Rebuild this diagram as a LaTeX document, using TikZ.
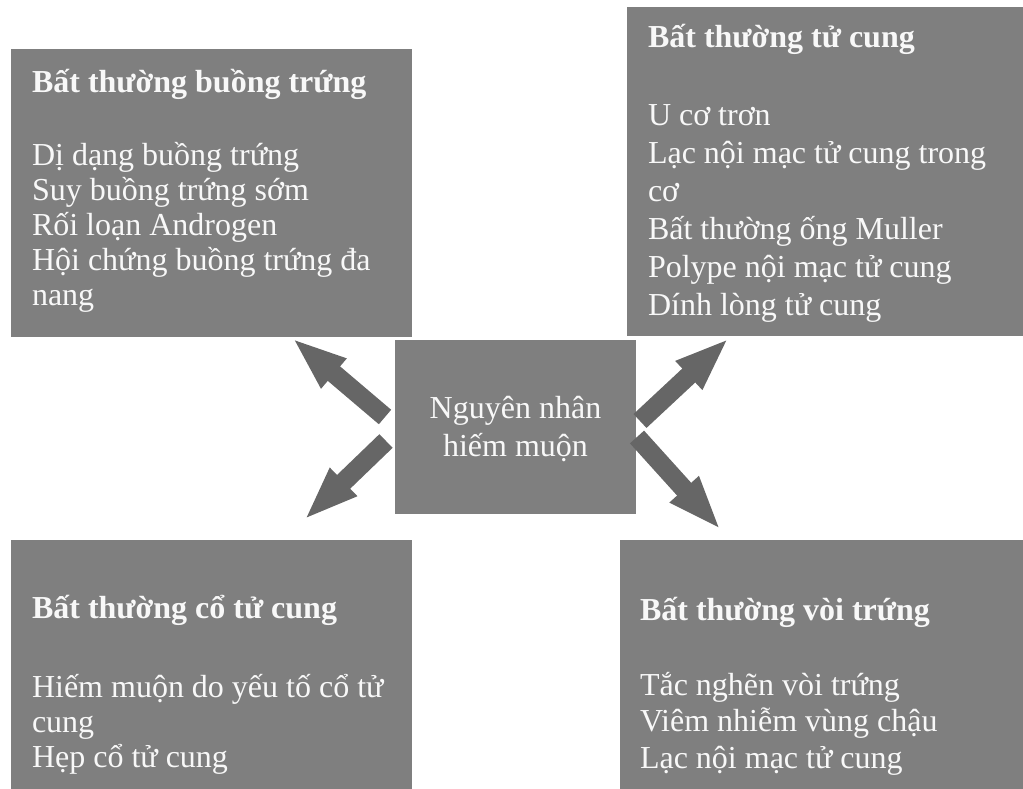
\documentclass[tikz,border=0pt]{standalone}
\usepackage{fontspec}
\setmainfont{Liberation Serif}
\usetikzlibrary{arrows.meta}
\definecolor{boxgray}{HTML}{7F7F7F}
\definecolor{arrowgray}{HTML}{666666}
\definecolor{txt}{HTML}{F8F8F8}
\begin{document}
\begin{tikzpicture}[x=1pt,y=-1pt,
  panel/.style={fill=boxgray,draw=none,inner sep=0pt,outer sep=0pt},
  bodytext/.style={anchor=north west,inner sep=0pt,outer sep=0pt,align=left,text=txt},
  bigarrow/.style={draw=arrowgray,line width=19pt,line cap=butt,
    -{Triangle[length=55pt,width=35pt]}},
]
\useasboundingbox (0,0) rectangle (1023,789);
% panels
\path[panel] (11,49) rectangle (412,337) node[pos=0.5] (tl) {};
\path[panel] (627,7) rectangle (1023,336) node[pos=0.5] (tr) {};
\path[panel] (11,540) rectangle (412,789) node[pos=0.5] (bl) {};
\path[panel] (620,540) rectangle (1023,789) node[pos=0.5] (br) {};
\node[panel,minimum width=241pt,minimum height=174pt,
  font=\fontsize{32}{38}\selectfont,text=txt,align=center] (c) at (515.5,427)
  {\rule{0pt}{26pt}Nguyên nhân\\hiếm muộn};
% texts
\node[bodytext,font=\fontsize{32}{35}\selectfont] (tlt) at (32,64)
  {\rule{0pt}{28pt}\textbf{Bất thường buồng trứng}\\[38pt]
   Dị dạng buồng trứng\\
   Suy buồng trứng sớm\\
   Rối loạn Androgen\\
   Hội chứng buồng trứng đa\\
   nang};
\node[bodytext,font=\fontsize{32}{38}\selectfont] (trt) at (648,19)
  {\rule{0pt}{28pt}\textbf{Bất thường tử cung}\\[40pt]
   U cơ trơn\\
   Lạc nội mạc tử cung trong\\
   cơ\\
   Bất thường ống Muller\\
   Polype nội mạc tử cung\\
   Dính lòng tử cung};
\node[bodytext,font=\fontsize{32}{35}\selectfont] (blt) at (32,590)
  {\rule{0pt}{28pt}\textbf{Bất thường cổ tử cung}\\[44pt]
   Hiếm muộn do yếu tố cổ tử\\
   cung\\
   Hẹp cổ tử cung};
\node[bodytext,font=\fontsize{32}{36.5}\selectfont] (brt) at (640,592)
  {\rule{0pt}{28pt}\textbf{Bất thường vòi trứng}\\[38.5pt]
   Tắc nghẽn vòi trứng\\
   Viêm nhiễm vùng chậu\\
   Lạc nội mạc tử cung};
% arrows
\coordinate (a1s) at (385,417);
\coordinate (a1e) at (292,338);
\coordinate (a2s) at (386,441);
\coordinate (a2e) at (304,520);
\coordinate (a3s) at (640,421);
\coordinate (a3e) at (729,338);
\coordinate (a4s) at (637,437);
\coordinate (a4e) at (721,530);
\draw[bigarrow] (a1s) -- (a1e);
\draw[bigarrow] (a2s) -- (a2e);
\draw[bigarrow] (a3s) -- (a3e);
\draw[bigarrow] (a4s) -- (a4e);
\end{tikzpicture}
\end{document}
